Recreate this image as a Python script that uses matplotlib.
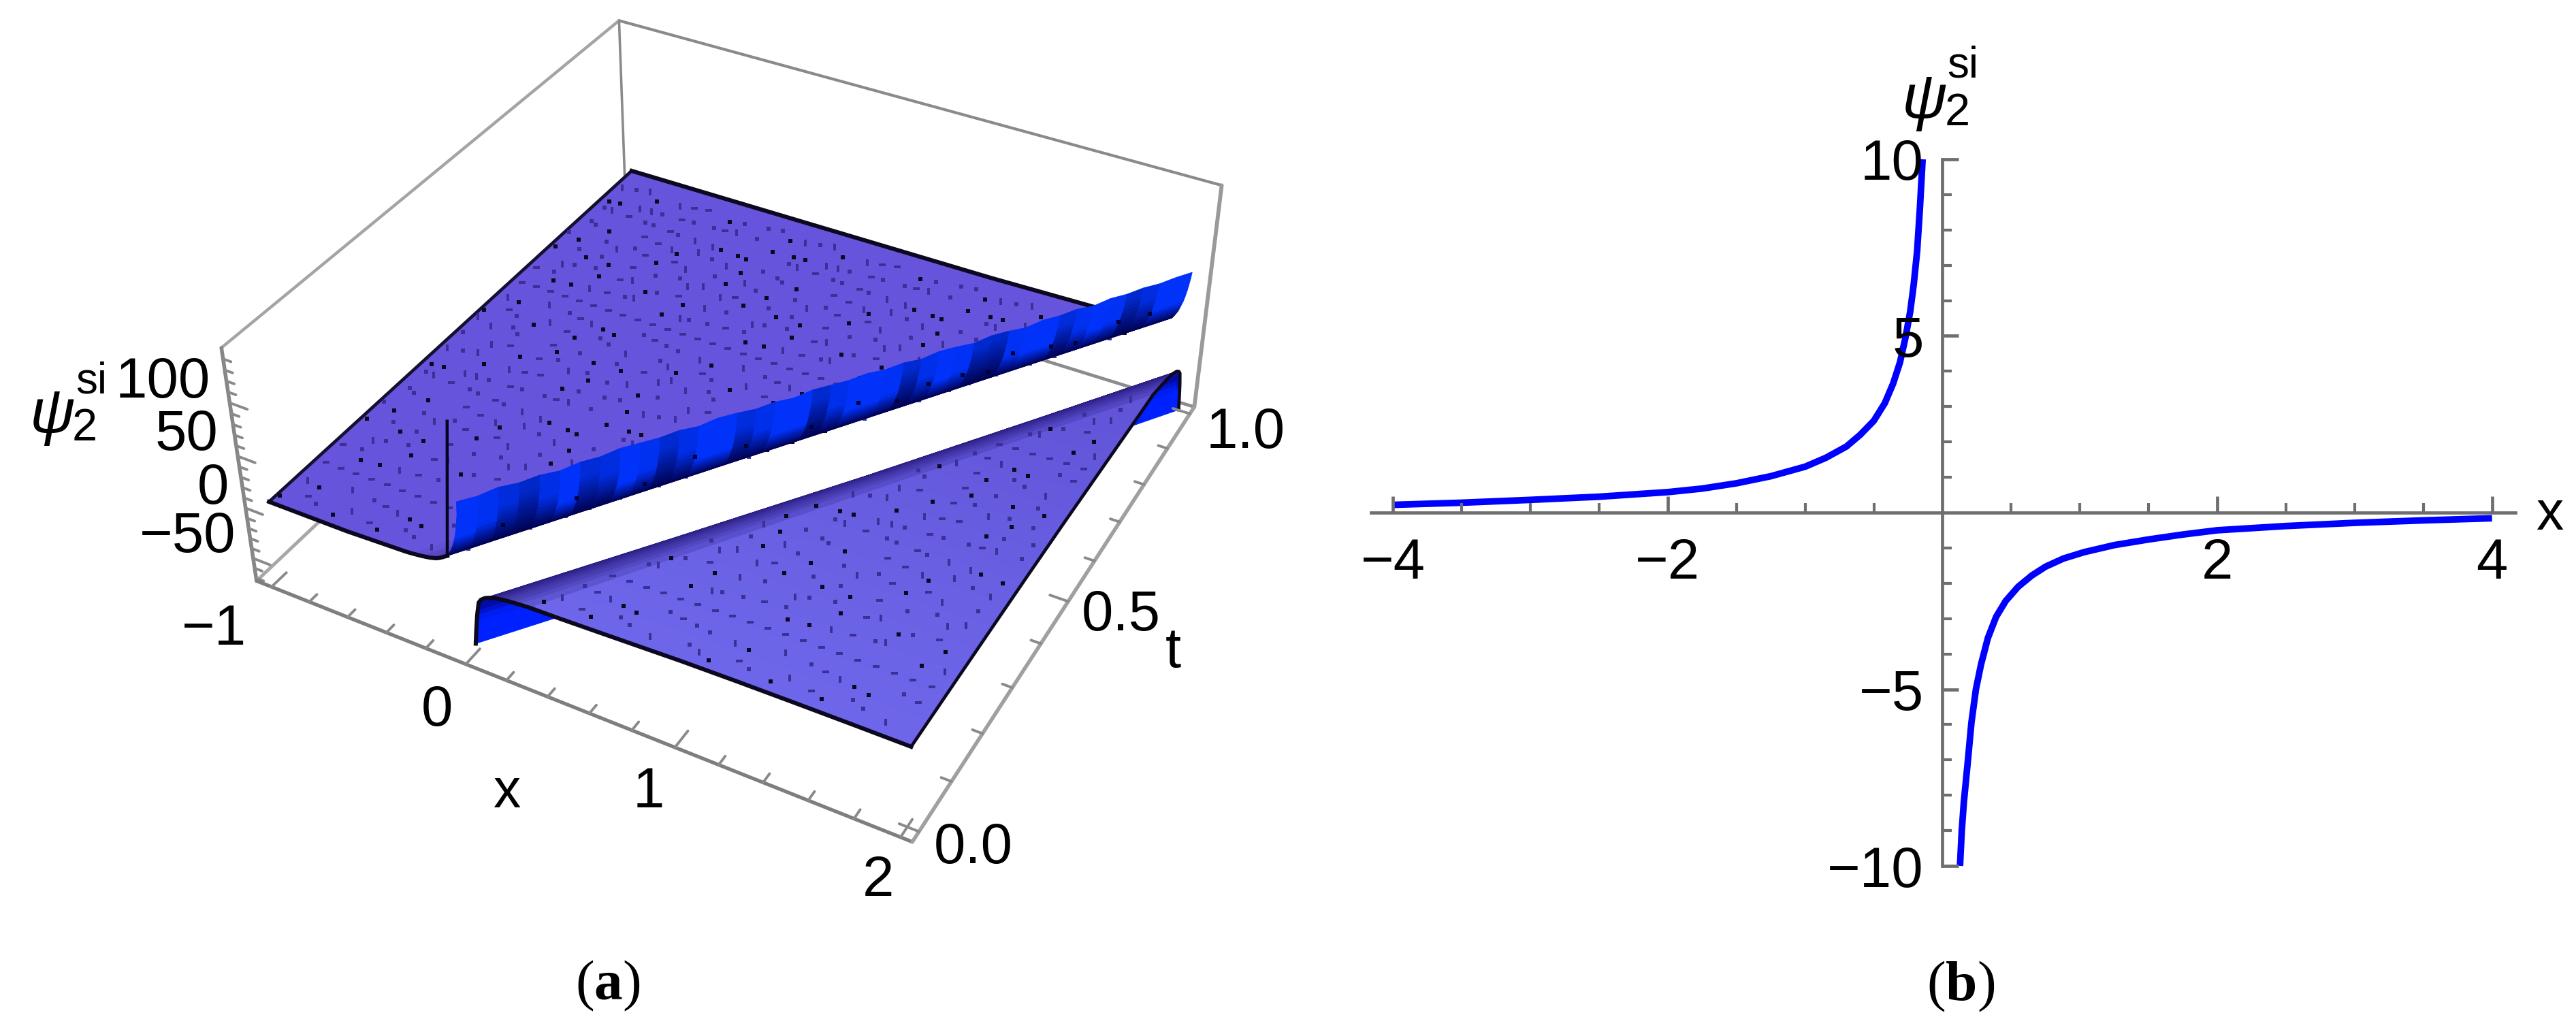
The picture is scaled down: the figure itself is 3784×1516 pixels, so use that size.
import numpy as np
import matplotlib
matplotlib.use("Agg")
import matplotlib.pyplot as plt
from matplotlib.colors import to_rgb

# ---------------- data: panel (a), surface psi_2^si(x, t) -----------------
d_upper_flat = [-3.2, -3.0, -2.5, -2.0, -1.5, -1.0, -0.8, -0.6, -0.45, -0.35, -0.27, -0.22, -0.18, -0.15, -0.13, -0.11, -0.10, -0.09]
z_upper_flat = [3.5, 3.5, 3.6, 3.7, 3.8, 4.0, 4.1, 4.3, 4.8, 5.6, 7.0, 8.2, 9.6, 11.2, 13.0, 15.5, 16.8, 18.0]
d_wall = [-0.09, -0.085, -0.08, -0.075, -0.07, -0.065, -0.06, -0.055, -0.05, -0.045, -0.04, -0.036, -0.032, -0.029, -0.026, -0.023, -0.02]
z_wall = [18.0, 19.4, 21.0, 22.7, 24.5, 26.5, 29.0, 32.0, 35.0, 38.0, 42.0, 46.0, 50.0, 54.0, 58.0, 62.0, 68.0]
d_lower = [0.015, 0.02, 0.025, 0.03, 0.035, 0.04, 0.048, 0.055, 0.06, 0.07, 0.08, 0.09, 0.10, 0.115, 0.13, 0.15, 0.17, 0.19, 0.22, 0.25, 0.30, 0.435, 0.6, 0.8, 1.0, 1.25, 1.5, 1.75, 2.0]
z_lower = [-58, -50, -42, -35, -28, -23, -15, -13, -11.5, -10, -8.5, -7.6, -6.8, -5.8, -5.0, -4.4, -3.8, -3.4, -3.0, -2.7, -2.3, -1.7, -0.6, 0.8, 2.2, 3.2, 3.8, 4.2, 4.4]
# the trough near the pole sinks a little further as t grows
drop_t = [0, .25, .5, .75, 1]
drop_z = [2, 7, 11, 12, 12]
t_rows = [0, .025, .05, .075, .1, .125, .15, .175, .2, .225, .25, .275, .3, .325, .35, .375, .4, .425, .45, .475, .5,
          .525, .55, .575, .6, .625, .65, .675, .7, .725, .75, .775, .8, .825, .85, .875, .9, .925, .95, .975, 1]
wall_top = [74, 73, 75, 73, 74, 72, 74, 73, 75, 74, 73, 74, 72, 74, 73, 71, 72, 70, 72, 71, 70,
            71, 69, 70, 68, 70, 69, 67, 69, 68, 66, 68, 67, 68, 66, 68, 67, 68, 67, 68, 68]
wall_stripe = [.1, .3, .7, 1, .5, .1, .8, .6, .1, .3, .9, .5, .1, .1, .7, .4, .1, .1, .9, .4, .1, .1, .2, .9, .4, .1, .2, .9, 1, .2, .1, .1, .7, .3, .1, .2, .9, .6, .1, .1]
spike_x = [-0.09, -0.03]
spike_z = [18, 146]
box_x = (-1.08, 2.05)
box_t = (-0.02, 1.02)
box_z = (-73, 150)
# tick positions
x3_major = [-1, 0, 1, 2]
x3_minor = [-.8, -.6, -.4, -.2, .2, .4, .6, .8, 1.2, 1.4, 1.6, 1.8]
t3_major = [0, .5, 1]
t3_minor = [.1, .2, .3, .4, .6, .7, .8, .9]
z3_major = [-50, 0, 50, 100]
z3_minor = [-70, -60, -40, -30, -20, -10, 10, 20, 30, 40, 60, 70, 80, 90, 110, 120, 130, 140]

# ---------------- data: panel (b) -----------------
x_left = [-4, -3.5, -3, -2.5, -2, -1.75, -1.5, -1.25, -1, -.85, -.7, -.6, -.5, -.42, -.36, -.31, -.27, -.235, -.21, -.185, -.165, -.145]
y_left = [.22, .28, .36, .45, .58, .68, .83, 1.03, 1.3, 1.55, 1.87, 2.2, 2.6, 3.1, 3.65, 4.25, 4.95, 5.7, 6.45, 7.4, 8.6, 10]
x_right = [.127, .14, .155, .17, .185, .21, .243, .28, .33, .39, .46, .55, .65, .75, .88, 1.03, 1.25, 1.5, 1.75, 2, 2.5, 3, 3.5, 4]
y_right = [-10, -9, -8.2, -7.6, -7, -5.95, -5, -4.3, -3.55, -2.95, -2.5, -2.1, -1.78, -1.53, -1.3, -1.12, -.92, -.76, -.62, -.5, -.38, -.29, -.22, -.16]
xb_major = [-4, -2, 2, 4]
xb_major_labels = ["\u22124", "\u22122", "2", "4"]
xb_minor = [-3.5, -3, -2.5, -1.5, -1, -.5, .5, 1, 1.5, 2.5, 3, 3.5]
yb_major = [-10, -5, 5, 10]
yb_major_labels = ["\u221210", "\u22125", "5", "10"]
yb_minor = [-9, -8, -7, -6, -4, -3, -2, -1, 1, 2, 3, 4, 6, 7, 8, 9]

# ---------------- figure -----------------
W, H = 3784, 1516
plt.rcParams['font.family'] = ['Liberation Sans', 'DejaVu Sans']
plt.rcParams['mathtext.fontset'] = 'custom'
plt.rcParams['mathtext.rm'] = 'Liberation Serif'
plt.rcParams['mathtext.bf'] = 'Liberation Serif:bold'
fig = plt.figure(figsize=(W/100, H/100), dpi=100)
FS = 60

def ptext(px, py, s, size=FS, ha='center', va='center', **kw):
    fig.text(px/W, 1-py/H, s, fontsize=size, ha=ha, va=va, **kw)

# camera of panel (a), fitted from the seven visible corners of the bounding box
corners = [((box_x[0], box_t[0], box_z[0]), (380, 861)), ((box_x[1], box_t[0], box_z[0]), (1339, 1234)),
           ((box_x[1], box_t[1], box_z[0]), (1753, 603)), ((box_x[0], box_t[1], box_z[0]), (920, 330)),
           ((box_x[0], box_t[0], box_z[1]), (323, 505)), ((box_x[0], box_t[1], box_z[1]), (909, 38)),
           ((box_x[1], box_t[1], box_z[1]), (1797, 269))]
A = []
for (X, Y, Z), (u, v) in corners:
    A.append([X, Y, Z, 1, 0, 0, 0, 0, -u*X, -u*Y, -u*Z, -u])
    A.append([0, 0, 0, 0, X, Y, Z, 1, -v*X, -v*Y, -v*Z, -v])
C = np.linalg.svd(np.array(A, float))[2][-1].reshape(3, 4)
if C[2] @ np.array([.5, .5, 0, 1]) < 0:
    C = -C
w0 = C[2] @ np.array([.5, .5, 0, 1])
M = np.array([2*C[0]/W - C[2], C[2] - 2*C[1]/H, [0, 0, 0, -w0], C[2]])

ax = fig.add_axes([0, 0, 1, 1], projection='3d', computed_zorder=False)
ax.get_proj = lambda: M
ax.apply_aspect = lambda position=None: None
ax._viewLim.intervalx = (-1, 1)
ax._viewLim.intervaly = (-1, 1)
ax.set_axis_off()
ax.patch.set_alpha(0)

# bounding box
def seg(p, q, color='#969696', lw=3.6, zo=1):
    ax.plot([p[0], q[0]], [p[1], q[1]], [p[2], q[2]], color=color, lw=lw, zorder=zo, solid_capstyle='round')
x0, x1 = box_x; t0, t1 = box_t; zb, zt = box_z
seg((x0, t1, zt), (x0, t0, zt), '#a4a4a4', 3.2)
seg((x0, t1, zt), (x1, t1, zt), '#8a8a8a', 3.0)
seg((x0, t1, zb), (x0, t1, zt), '#8a8a8a', 2.6)
seg((x1, t1, zb), (x1, t1, zt), '#9a9a9a', 4.2)
seg((x0, t0, zb), (x0, t0, zt), '#868686', 4.0)
seg((x0, t0, zb), (x0, t1, zb), '#a8a8a8', 3.6)
seg((x0, t1, zb), (x1, t1, zb), '#8c8c8c', 3.4)
seg((x0, t0, zb), (x1, t0, zb), '#7e7e7e', 3.8, 8)
seg((x1, t0, zb), (x1, t1, zb), '#a0a0a0', 4.0, 8)
for v in x3_major + x3_minor:
    n = .035 if v in x3_major else .018
    seg((v, t0, zb), (v, t0 + n, zb), '#8a8a8a', 2.8, 8)
for v in t3_major + t3_minor:
    n = .085 if v in t3_major else .045
    seg((x1, v, zb), (x1 - n, v, zb), '#8a8a8a', 2.8, 8)
for v in z3_major + z3_minor:
    n = .09 if v in z3_major else .04
    seg((x0, t0, v), (x0 + n, t0, v), '#8a8a8a', 2.8, 1)

FLAT = np.array(to_rgb('#6655dc'))
DARK = np.array(to_rgb('#2a1c80'))
NAVY = np.array((0, 0, .30))
BLUE = np.array((0, .2, 1.0))

d_u = np.array(d_upper_flat); z_u = np.array(z_upper_flat)
d_w = np.array(d_wall); z_w = np.array(z_wall)
d_l = np.array(d_lower); z_l = np.array(z_lower)
T = np.array(t_rows, float)

def z_low(d, t):
    w = np.clip((.3 - d) / .3, 0, 1)
    return np.interp(d, d_l, z_l) - np.interp(t, drop_t, drop_z) * w

# upper sheet: flat part
Xu = np.maximum(2*T[:, None] + d_u[None, :], -1.0)
Zu = np.interp(Xu - 2*T[:, None], d_u, z_u)
TTu = np.repeat(T[:, None], len(d_u), axis=1)
fc = np.zeros(Xu.shape + (3,))
k = np.clip((d_u + 0.30) / 0.21, 0, 1)[None, :, None]
fc[:] = FLAT * (1 - k*.62) + (k*.62) * DARK
ax.plot_surface(Xu, TTu, Zu, facecolors=fc, rstride=1, cstride=1, shade=False, linewidth=.6, zorder=2, antialiased=True)

# upper sheet: rims
rim = '#0c0820'
tt = np.array(t_rows)
ax.plot(-1 + 0*tt, tt, np.interp(-1 - 2*tt, d_u, z_u), color='#15102f', lw=3.4, zorder=3)
xx = np.array([-1, -.6, -.3, -.27, -.22, -.18, -.15, -.13, -.11, -.10, -.09])
ax.plot(xx, 0*xx, np.interp(xx, d_u, z_u), color=rim, lw=4.4, zorder=3)
xx = np.array([-1, 0, 1, 1.7])
ax.plot(xx, 1 + 0*xx, np.interp(xx - 2, d_u, z_u), color=rim, lw=4.4, zorder=3)

# dark specks left by the mesh lines (a fixed lattice on the x-t plane)
grid_x = np.arange(-.96, 1.97, .08)
grid_t = np.arange(.03, .98, .04)
I, J = np.meshgrid(np.arange(len(grid_x)), np.arange(len(grid_t)), indexing='ij')
I, J = I.ravel(), J.ravel()
hash_ = (I*7 + J*11 + I*J*3) % 13
sx = grid_x[I] + (hash_ - 6) * .004
st = grid_t[J] + ((hash_*5) % 13 - 6) * .002
ds = sx - 2*st
keep = hash_ != 5
BLK = np.isin(hash_, [0, 8, 3])
SQ = np.isin(hash_, [1, 10, 4, 12])
VR = np.isin(hash_, [2, 6, 11])
HR = np.isin(hash_, [7, 9])
v_rect = [(-1, -2.2), (1, -2.2), (1, 2.2), (-1, 2.2)]
h_rect = [(-2.2, -1), (2.2, -1), (2.2, 1), (-2.2, 1)]
groups = [(BLK, 's', 17, '#0b0920'), (SQ, 's', 22, '#3c3098'), (VR, v_rect, 52, '#3c3098'), (HR, h_rect, 52, '#3c3098')]

def specks(mask, zfun, zo):
    for g, mk, size, col in groups:
        m = mask & g & keep
        ax.scatter(sx[m], st[m], zfun(ds[m], st[m]), s=size, c=col, marker=mk, linewidths=0, depthshade=False, zorder=zo)

specks(ds < -.12, lambda d, t: np.interp(d, d_u, z_u), 3.5)

# upper sheet: the wall that climbs towards the pole (seen from behind)
Xw = 2*T[:, None] + d_w[None, :]
Zw = np.repeat(z_w[None, :], len(T), axis=0)
Zw[:, -1] = wall_top
Tw = np.repeat(T[:, None], len(d_w), axis=1)
fw = np.zeros(Xw.shape + (3,))
stripe = np.array(wall_stripe + [wall_stripe[-1]])
for c in range(len(d_w)):
    pos = (z_w[c] - z_w[0]) / (z_w[-1] - z_w[0])
    for r in range(len(T)):
        lim = .32 + .58*stripe[r]
        q = np.clip(pos / lim, 0, 1)
        fw[r, c] = NAVY*(1-q) + BLUE*(1 - .2*stripe[r])*q
ax.plot_surface(Xw, Tw, Zw, facecolors=fw, rstride=1, cstride=1, shade=False, linewidth=.6, zorder=4)
ax.plot(spike_x, [0, 0], spike_z, color='#050520', lw=3.2, zorder=4.2)
wt = np.array([.06, .15, .24, .3, .37, .46, .52, .58, .62, .67, .71, .74, .8, .84, .9, .95])
wd = np.array([-.05, -.045, -.06, -.04, -.05, -.055, -.04, -.06, -.045, -.05, -.06, -.04, -.05, -.06, -.045, -.05])
ax.scatter(2*wt + wd, wt, np.interp(wd, d_w, z_w), s=22, c='#00003a', marker='s', linewidths=0, depthshade=False, zorder=4.3)

# lower sheet
Tl = np.array(t_rows + [.985, .99, .995])
Tl.sort()
dmax = 2 - 2*Tl
Dl = np.minimum(d_l[None, :], dmax[:, None])
Xl = 2*Tl[:, None] + Dl
TTl = np.repeat(Tl[:, None], len(d_l), axis=1)
Zl = z_low(Dl, TTl)
fl = np.zeros(Xl.shape + (3,))
for r in range(Xl.shape[0]):
    base = np.array(to_rgb('#5d4fd2'))*Tl[r] + np.array(to_rgb('#6e66ea'))*(1 - Tl[r])
    for c in range(Xl.shape[1]):
        d = Dl[r, c]
        if d < .046:
            g = np.clip((.046 - d)/.018, 0, 1)
            fl[r, c] = (1-g)*np.array((0, 0, .5)) + g*np.array((0, .13, 1))
        else:
            g = np.clip((d - .05)/.25, 0, 1)
            fl[r, c] = (1-g)*np.array(to_rgb('#1d1170')) + g*base
ax.plot_surface(Xl, TTl, Zl, facecolors=fl, rstride=1, cstride=1, shade=False, linewidth=.6, zorder=5)
specks(ds > .22, z_low, 6)
ax.plot(d_l, 0*d_l, z_low(d_l, 0*d_l), color=rim, lw=4.4, zorder=7)
ax.plot(2 + 0*d_l, 1 - d_l/2, z_low(d_l, 1 - d_l/2), color=rim, lw=3.4, zorder=7)

# panel (a) texts
ptext(309, 562, "100", ha='right')
ptext(320, 639, "50", ha='right')
ptext(336, 718, "0", ha='right')
ptext(346, 789, "\u221250", ha='right')
ptext(362, 925, "\u22121", ha='right')
ptext(642, 1044, "0")
ptext(953, 1164, "1")
ptext(1290, 1294, "2")
ptext(744, 1165, "x", size=58)
ptext(1430, 1246, "0.0")
ptext(1647, 904, "0.5")
ptext(1723, 958, "t", size=60)
ptext(1830, 636, "1.0")
ptext(77, 612, "\u03c8", size=66, style='italic')
ptext(124, 630, "2", size=48)
ptext(134, 561, "si", size=46)
ptext(893, 1448, r"($\mathbf{a}$)", size=60, family='Liberation Serif')

# panel (b)
axb = fig.add_axes([2014/W, 244/H, 1681/W, 1038/H])
axb.set_xlim(-4.16, 4.17)
axb.set_ylim(-10, 10)
axb.patch.set_alpha(0)
axb.plot(x_left, y_left, color='#0000ff', lw=7, clip_on=False, zorder=1, solid_capstyle='butt')
axb.plot(x_right, y_right, color='#0000ff', lw=7, clip_on=False, zorder=1, solid_capstyle='butt')
for s in ('top', 'right'):
    axb.spines[s].set_visible(False)
for s in ('left', 'bottom'):
    axb.spines[s].set_position('zero')
    axb.spines[s].set_color('#6e6e6e')
    axb.spines[s].set_linewidth(3.4)
axb.spines['left'].set_bounds(-10, 10)
axb.set_xticks(xb_major, xb_major_labels)
axb.set_yticks(yb_major, yb_major_labels)
axb.set_xticks(xb_minor, minor=True)
axb.set_yticks(yb_minor, minor=True)
axb.tick_params(which='major', direction='in', length=17, width=3.4, color='#6e6e6e', labelsize=60, labelcolor='black')
axb.tick_params(which='minor', direction='in', length=10, width=3.0, color='#6e6e6e')
axb.tick_params(axis='x', which='major', pad=26)
axb.tick_params(axis='y', which='major', pad=20)
ptext(3745, 757, "x", size=58)
ptext(2827, 150, "\u03c8", size=66, style='italic')
ptext(2875, 167, "2", size=48)
ptext(2883, 97, "si", size=46)
ptext(2880, 1449, r"($\mathbf{b}$)", size=60, family='Liberation Serif')

fig.savefig("out.png", dpi=100)
